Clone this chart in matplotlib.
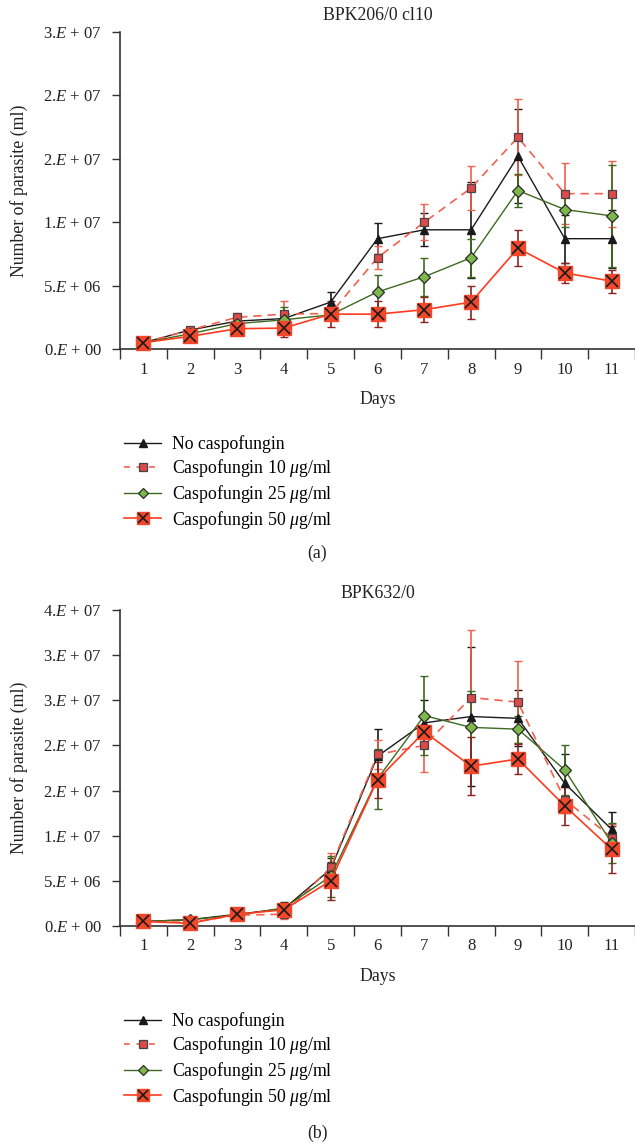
import numpy as np
import matplotlib
matplotlib.use("Agg")
import matplotlib.pyplot as plt
from matplotlib.lines import Line2D

# ---------------- data ----------------
days = ["1", "2", "3", "4", "5", "6", "7", "8", "9", "10", "11"]
series_labels = ["No caspofungin", r"Caspofungin 10 $\mu$g/ml",
                 r"Caspofungin 25 $\mu$g/ml", r"Caspofungin 50 $\mu$g/ml"]

# Panel (a) BPK206/0 cl10 (values in parasites/ml)
a_none = np.array([0.5, 1.5, 2.2, 2.4, 3.7, 8.7, 9.4, 9.4, 15.2, 8.7, 8.7]) * 1e6
a_none_err = np.array([0.1, 0.2, 0.3, 0.4, 0.8, 1.2, 1.3, 3.8, 3.7, 1.9, 2.3]) * 1e6
a_c10 = np.array([0.5, 1.5, 2.5, 2.75, 2.8, 7.2, 10.0, 12.7, 16.7, 12.25, 12.25]) * 1e6
a_c10_err = np.array([0.1, 0.2, 0.3, 1.0, 0.4, 0.9, 1.4, 1.7, 3.0, 2.4, 2.6]) * 1e6
a_c25 = np.array([0.5, 1.2, 2.0, 2.3, 2.7, 4.5, 5.7, 7.2, 12.5, 11.0, 10.5]) * 1e6
a_c25_err = np.array([0.1, 0.2, 0.3, 1.0, 0.4, 1.3, 1.5, 1.5, 1.3, 1.4, 4.0]) * 1e6
a_c50 = np.array([0.5, 1.0, 1.6, 1.65, 2.75, 2.75, 3.1, 3.7, 7.95, 6.0, 5.35]) * 1e6
a_c50_err = np.array([0.1, 0.2, 0.3, 0.7, 1.0, 1.0, 1.0, 1.3, 1.4, 0.8, 0.9]) * 1e6
a_yticks = [0, 5e6, 1e7, 1.5e7, 2e7, 2.5e7]
a_yticklabels = [r"0.$E$ + 00", r"5.$E$ + 06", r"1.$E$ + 07", r"2.$E$ + 07",
                 r"2.$E$ + 07", r"3.$E$ + 07"]

# Panel (b) BPK632/0
b_none = np.array([0.5, 0.7, 1.3, 1.9, 6.3, 18.8, 22.5, 23.2, 23.0, 15.8, 10.7]) * 1e6
b_none_err = np.array([0.1, 0.3, 0.3, 0.8, 1.2, 3.0, 2.5, 7.7, 3.1, 3.2, 1.9]) * 1e6
b_c10 = np.array([0.5, 0.4, 1.2, 1.3, 6.5, 19.0, 20.0, 25.3, 24.8, 14.0, 9.8]) * 1e6
b_c10_err = np.array([0.1, 0.2, 0.3, 0.5, 1.6, 1.6, 2.9, 7.5, 4.5, 1.5, 1.5]) * 1e6
b_c25 = np.array([0.5, 0.7, 1.2, 2.0, 5.5, 16.3, 23.3, 22.0, 21.8, 17.3, 9.2]) * 1e6
b_c25_err = np.array([0.1, 0.2, 0.3, 0.5, 2.3, 3.3, 4.4, 4.0, 1.5, 2.8, 2.2]) * 1e6
b_c50 = np.array([0.5, 0.3, 1.3, 1.8, 5.0, 16.2, 21.5, 17.7, 18.5, 13.3, 8.5]) * 1e6
b_c50_err = np.array([0.1, 0.2, 0.3, 0.5, 2.1, 2.0, 1.5, 3.2, 1.7, 2.1, 2.6]) * 1e6
b_yticks = [0, 5e6, 1e7, 1.5e7, 2e7, 2.5e7, 3e7, 3.5e7]
b_yticklabels = [r"0.$E$ + 00", r"5.$E$ + 06", r"1.$E$ + 07", r"2.$E$ + 07",
                 r"2.$E$ + 07", r"3.$E$ + 07", r"3.$E$ + 07", r"4.$E$ + 07"]

# ---------------- style ----------------
plt.rcParams['font.family'] = ['Liberation Serif', 'DejaVu Serif']
plt.rcParams['mathtext.fontset'] = 'custom'
plt.rcParams['mathtext.rm'] = 'Liberation Serif'
plt.rcParams['mathtext.it'] = 'Liberation Serif:italic'
plt.rcParams['font.size'] = 12

FS_TICK = 12
FS_TEXT = 12.8

BLACK = "#1a1a1a"
RED10 = "#f0614f"
RED10_FILL = "#dd4a4a"
GREEN = "#3d6a1f"
GREEN_FILL = "#7cb84a"
RED50 = "#ff3b1f"
RED50_FILL = "#f2472a"
RED50_ERR = "#8a2323"
AX = "#333333"
TXT = "#222222"

fig = plt.figure(figsize=(6.35, 11.45), dpi=100)
W, H = 635.0, 1145.0


def make_axes(left, top, right, bottom):
    return fig.add_axes([left / W, 1 - bottom / H, (right - left) / W, (bottom - top) / H])


def draw_panel(ax, title, vals, errs, yticks, yticklabels):
    x = np.arange(len(days))
    none, c10, c25, c50 = vals
    e_none, e_c10, e_c25, e_c50 = errs
    ekw = dict(capsize=3, elinewidth=1.2, capthick=1.0, linestyle='none', marker='none')
    ax.errorbar(x, none, yerr=e_none, ecolor=BLACK, zorder=2, **ekw)
    ax.errorbar(x, c10, yerr=e_c10, ecolor=RED10, zorder=2, **ekw)
    ax.errorbar(x, c25, yerr=e_c25, ecolor=GREEN, zorder=2, **ekw)
    ax.errorbar(x, c50, yerr=e_c50, ecolor=RED50_ERR, zorder=2, **ekw)

    ax.plot(x, none, color=BLACK, lw=1.0, marker='^', ms=6,
            mfc=BLACK, mec=BLACK, zorder=3)
    ax.plot(x, c10, color=RED10, lw=1.2, ls=(0, (5, 3.5)), marker='s', ms=6,
            mfc=RED10_FILL, mec="#444444", mew=0.9, zorder=4)
    ax.plot(x, c25, color=GREEN, lw=1.0, marker='D', ms=6,
            mfc=GREEN_FILL, mec="#2a2a2a", mew=0.9, zorder=5)
    ax.plot(x, c50, color=RED50, lw=1.2, marker='s', ms=10,
            mfc=RED50_FILL, mec=RED50_FILL, zorder=6)
    ax.plot(x, c50, ls='none', marker='x', ms=8, mec=BLACK, mew=1.2, zorder=7)

    ax.set_xlim(-0.5, len(days) - 0.5)
    ax.set_ylim(yticks[0], yticks[-1])
    ax.set_yticks(yticks)
    ax.set_yticklabels(yticklabels, fontsize=FS_TICK, color=TXT)
    ax.set_xticks(x)
    ax.set_xticklabels(days, fontsize=FS_TICK, color=TXT)
    ax.set_xticks(np.arange(len(days) + 1) - 0.5, minor=True)
    ax.tick_params(axis='x', which='major', length=0, pad=9)
    ax.tick_params(axis='x', which='minor', length=7, width=1.0, color=AX, direction='out')
    ax.tick_params(axis='y', which='major', length=6, width=1.0, color=AX, direction='out', pad=7)
    for s in ('top', 'right'):
        ax.spines[s].set_visible(False)
    for s in ('left', 'bottom'):
        ax.spines[s].set_color(AX)
        ax.spines[s].set_linewidth(1.2)
    ax.set_xlabel("Days", fontsize=FS_TEXT, color=TXT, labelpad=10)
    ax.set_ylabel("Number of parasite (ml)", fontsize=FS_TEXT, color=TXT)
    ax.yaxis.set_label_coords(-0.178, 0.5)
    ax.set_title(title, fontsize=FS_TEXT, color=TXT, pad=9)
    for line in ax.lines:
        line.set_clip_on(False)


def legend_handles():
    return [
        Line2D([], [], color=BLACK, lw=1.0, marker='^', ms=6, mfc=BLACK, mec=BLACK),
        Line2D([], [], color=RED10, lw=1.2, ls=(0, (3.5, 4)), marker='s', ms=6,
               mfc=RED10_FILL, mec="#444444", mew=0.9),
        Line2D([], [], color=GREEN, lw=1.0, marker='D', ms=5.5,
               mfc=GREEN_FILL, mec="#2a2a2a", mew=0.9),
        (Line2D([], [], color=RED50, lw=1.2, marker='s', ms=8,
                mfc=RED50_FILL, mec=RED50_FILL),
         Line2D([], [], ls='none', marker='x', ms=6.5, mec=BLACK, mew=1.2)),
    ]


def add_legend(top_px):
    fig.legend(legend_handles(), series_labels, loc='upper left',
               bbox_to_anchor=(117 / W, 1 - top_px / H), frameon=False, fontsize=FS_TEXT,
               handlelength=2.1, labelspacing=0.22, handletextpad=0.6, borderaxespad=0)


ax1 = make_axes(120, 32, 635, 349)
draw_panel(ax1, "BPK206/0 cl10", [a_none, a_c10, a_c25, a_c50],
           [a_none_err, a_c10_err, a_c25_err, a_c50_err], a_yticks, a_yticklabels)
add_legend(428)
fig.text(0.5, 1 - 553 / H, "(a)", ha='center', va='center', fontsize=FS_TEXT, color=TXT)

ax2 = make_axes(120, 610, 635, 926)
draw_panel(ax2, "BPK632/0", [b_none, b_c10, b_c25, b_c50],
           [b_none_err, b_c10_err, b_c25_err, b_c50_err], b_yticks, b_yticklabels)
add_legend(1005)
fig.text(0.5, 1 - 1133 / H, "(b)", ha='center', va='center', fontsize=FS_TEXT, color=TXT)

fig.savefig("out.png", dpi=100)
